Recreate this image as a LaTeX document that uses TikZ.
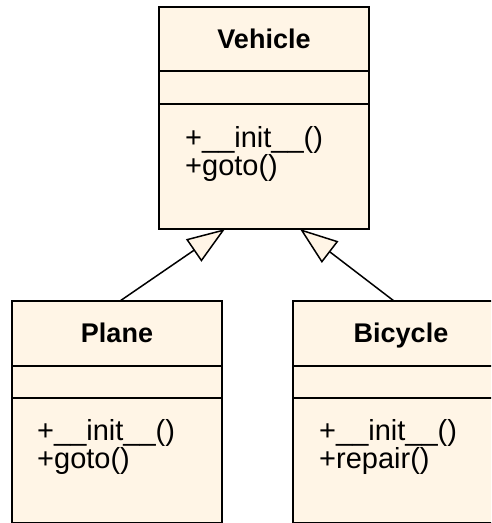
\documentclass[tikz,border=0pt]{standalone}
\usepackage{fontspec}
\setmainfont{Liberation Sans}
\usetikzlibrary{arrows.meta}
\definecolor{classfill}{RGB}{255,245,230}
\begin{document}
\begin{tikzpicture}[x=1pt,y=-1pt,
  classbox/.style={draw=black, line width=2pt, fill=classfill, rectangle,
    inner sep=0pt, outer sep=0pt},
  divider/.style={draw=black, line width=2pt},
  title/.style={font=\fontsize{27}{28}\selectfont\bfseries, anchor=base, inner sep=0pt},
  op/.style={font=\fontsize{29}{28}\selectfont, anchor=base west, inner sep=0pt},
  inherit/.style={draw=black, line width=1.5pt,
    -{Triangle[length=38pt,width=27pt,fill=classfill]}}]
\clip (0,0) rectangle (491,523);
\fill[white] (0,0) rectangle (491,523);

% class boxes
\node[classbox, minimum width=210pt, minimum height=222pt] (vehicle) at (264,118) {};
\node[classbox, minimum width=210pt, minimum height=221.5pt] (plane) at (117,411.75) {};
\node[classbox, minimum width=212pt, minimum height=221.5pt] (bicycle) at (399,411.75) {};

% compartment separators
\draw[divider] (vehicle.west |- 0,71) -- (vehicle.east |- 0,71);
\draw[divider] (vehicle.west |- 0,104) -- (vehicle.east |- 0,104);
\draw[divider] (plane.west |- 0,366) -- (plane.east |- 0,366);
\draw[divider] (plane.west |- 0,398) -- (plane.east |- 0,398);
\draw[divider] (bicycle.west |- 0,366) -- (bicycle.east |- 0,366);
\draw[divider] (bicycle.west |- 0,398) -- (bicycle.east |- 0,398);

% class names and operations
\node[title] (vtitle) at (264,48) {Vehicle};
\node[op] (vinit) at (185,147) {+\_\_init\_\_()};
\node[op] (vgoto) at (185,175) {+goto()};

\node[title] (ptitle) at (117,342) {Plane};
\node[op] (pinit) at (37,440) {+\_\_init\_\_()};
\node[op] (pgoto) at (37,468) {+goto()};

\node[title] (btitle) at (401,342) {Bicycle};
\node[op] (binit) at (319,440) {+\_\_init\_\_()};
\node[op] (brepair) at (319,468) {+repair()};

% generalisation arrows
\draw[inherit] ([xshift=3pt]plane.north) -- ([xshift=-39pt]vehicle.south);
\draw[inherit] ([xshift=-5pt]bicycle.north) -- ([xshift=36pt]vehicle.south);
\end{tikzpicture}
\end{document}
